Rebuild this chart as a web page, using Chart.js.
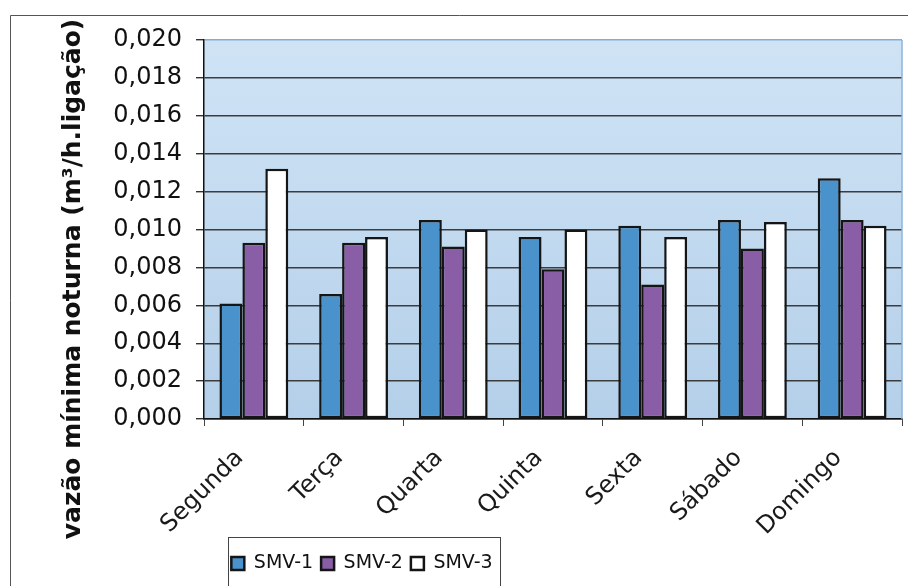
<!DOCTYPE html>
<html>
<head>
<meta charset="utf-8">
<script src="https://cdn.jsdelivr.net/npm/chart.js@4/dist/chart.umd.min.js"></script>
<style>
  body { margin: 0; background: #fff; }
  canvas { display: block; }
</style>
</head>
<body>
<canvas id="vazaoChart" width="908" height="586"></canvas>
<script>
const dias = ['Segunda', 'Terça', 'Quarta', 'Quinta', 'Sexta', 'Sábado', 'Domingo'];
const smv1 = [0.0061, 0.0066, 0.0105, 0.0096, 0.0102, 0.0105, 0.0127];
const smv2 = [0.0093, 0.0093, 0.0091, 0.0079, 0.0071, 0.0090, 0.0105];
const smv3 = [0.0132, 0.0096, 0.0100, 0.0100, 0.0096, 0.0104, 0.0102];
const yMin = 0, yMax = 0.020, yStep = 0.002;
const tituloY = 'vazão mínima noturna (m³/h.ligação)';

const FONTE = 'DejaVu Sans';

// fundo azul da area de plotagem, moldura e titulo do eixo Y
const moldura = {
    id: 'moldura',
    beforeDraw(chart) {
        const { ctx, chartArea: a } = chart;
        const g = ctx.createLinearGradient(0, a.top, 0, a.bottom);
        g.addColorStop(0, '#cfe3f5');
        g.addColorStop(0.5, '#c2daf0');
        g.addColorStop(1, '#b4cfe9');
        ctx.save();
        ctx.fillStyle = g;
        ctx.fillRect(a.left, a.top, a.right - a.left, a.bottom - a.top);
        ctx.restore();

        // legenda um pouco a esquerda, como no original
        const lg = chart.legend;
        const w = lg.right - lg.left;
        lg.left = 362 - w / 2;
        lg.right = lg.left + w;
    },
    afterDraw(chart) {
        const { ctx, chartArea: a } = chart;
        ctx.save();
        // borda direita da area
        ctx.strokeStyle = '#8fb3dd';
        ctx.lineWidth = 1.5;
        ctx.beginPath();
        ctx.moveTo(a.right, a.top);
        ctx.lineTo(a.right, a.bottom);
        ctx.stroke();

        // moldura externa
        ctx.strokeStyle = '#555';
        ctx.lineWidth = 1;
        ctx.beginPath();
        ctx.moveTo(10.5, 586);
        ctx.lineTo(10.5, 15.5);
        ctx.lineTo(908, 15.5);
        ctx.stroke();

        // caixa da legenda
        ctx.strokeStyle = '#444';
        ctx.strokeRect(228.5, 537.5, 272, 60);

        // titulo do eixo Y
        ctx.translate(73, 279);
        ctx.rotate(-Math.PI / 2);
        ctx.font = 'bold 25px "' + FONTE + '"';
        ctx.fillStyle = '#111';
        ctx.textAlign = 'center';
        ctx.textBaseline = 'middle';
        ctx.fillText(tituloY, 0, 0);
        ctx.restore();
    }
};

function serie(label, data, cor) {
    return {
        label: label,
        data: data,
        backgroundColor: cor,
        borderColor: '#151515',
        borderWidth: 2.5,
        borderSkipped: false,
        categoryPercentage: 0.69,
        barPercentage: 1.0
    };
}

const ctx = document.getElementById('vazaoChart').getContext('2d');
new Chart(ctx, {
    type: 'bar',
    data: {
        labels: dias,
        datasets: [
            serie('SMV-1', smv1, '#4a92cc'),
            serie('SMV-2', smv2, '#8a5ea6'),
            serie('SMV-3', smv3, '#ffffff')
        ]
    },
    options: {
        responsive: false,
        animation: false,
        devicePixelRatio: 1,
        layout: { padding: { top: 40, right: 6, left: 0, bottom: 3 } },
        plugins: {
            legend: {
                display: true,
                position: 'bottom',
                labels: {
                    font: { family: FONTE, size: 19 },
                    color: '#111',
                    boxWidth: 13,
                    boxHeight: 13,
                    padding: 8
                }
            },
            tooltip: { enabled: false }
        },
        scales: {
            x: {
                grid: {
                    display: true,
                    drawOnChartArea: false,
                    tickLength: 7,
                    tickColor: '#444',
                    offset: true
                },
                border: { color: '#111', width: 1.5 },
                ticks: {
                    autoSkip: false,
                    maxRotation: 45,
                    minRotation: 45,
                    labelOffset: -14,
                    padding: 18,
                    color: '#1a1a1a',
                    font: { family: FONTE, size: 24 }
                },
                afterFit(scale) { scale.height = 127; }
            },
            y: {
                min: yMin,
                max: yMax,
                grid: {
                    color: (c) => (c.tick && c.tick.value >= yMax - 1e-9) ? '#86abd8' : '#3c3c3c',
                    lineWidth: 1.4,
                    tickLength: 8,
                    tickColor: '#333'
                },
                border: { color: '#111', width: 1.5 },
                ticks: {
                    stepSize: yStep,
                    padding: 14,
                    color: '#111',
                    font: { family: FONTE, size: 24 },
                    callback: (v) => Number(v).toFixed(3).replace('.', ',')
                },
                afterFit(scale) { scale.width = 204; }
            }
        }
    },
    plugins: [moldura]
});
</script>
</body>
</html>
